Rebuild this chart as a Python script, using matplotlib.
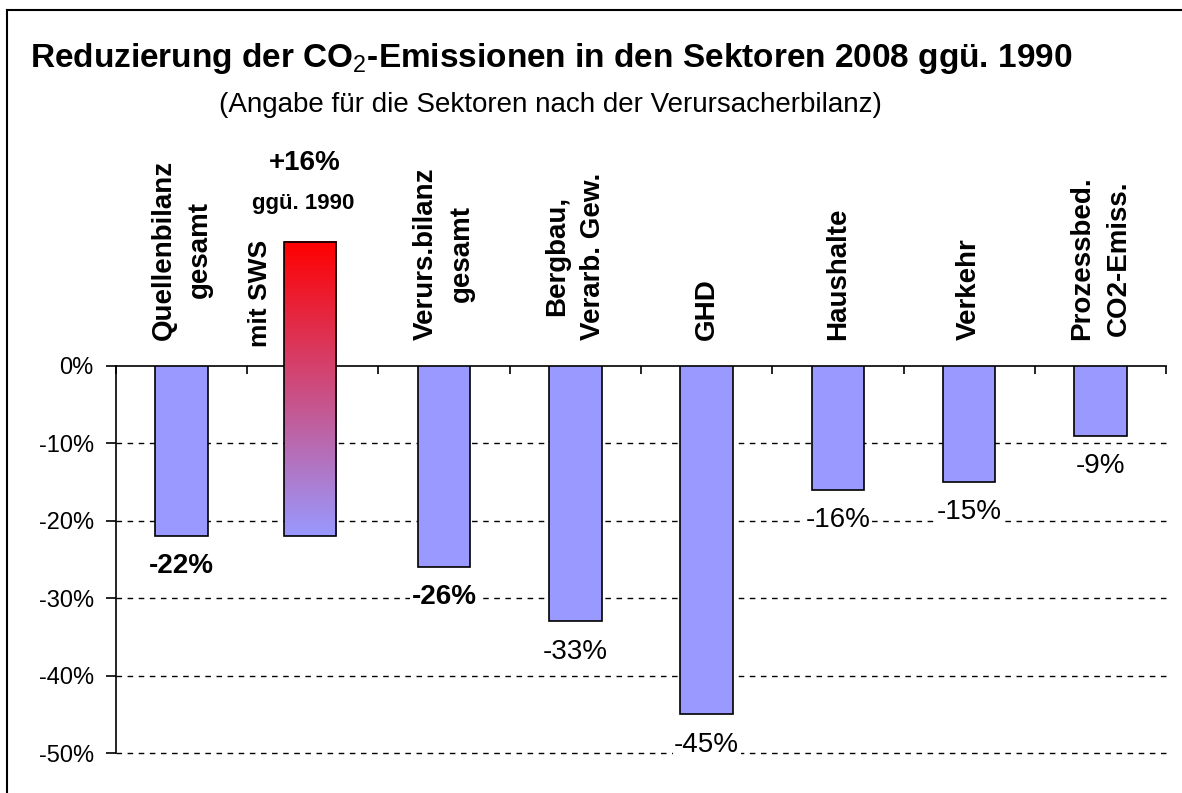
import numpy as np
import matplotlib
matplotlib.use('Agg')
import matplotlib.pyplot as plt
from matplotlib.colors import LinearSegmentedColormap
from matplotlib.lines import Line2D

plt.rcParams['font.family'] = ['Liberation Sans', 'DejaVu Sans']
plt.rcParams['mathtext.fontset'] = 'custom'
plt.rcParams['mathtext.rm'] = 'Liberation Sans'
plt.rcParams['mathtext.bf'] = 'Liberation Sans:bold'

# Daten
kategorien = ['Quellenbilanz\ngesamt', '', 'Verurs.bilanz\ngesamt', 'Bergbau,\nVerarb. Gew.',
              'GHD', 'Haushalte', 'Verkehr', 'Prozessbed.\nCO2-Emiss.']
werte = [-22, -22, -26, -33, -45, -16, -15, -9]
beschriftung = ['-22%', None, '-26%', '-33%', '-45%', '-16%', '-15%', '-9%']
fett = [True, False, True, False, False, False, False, False]
sws_oben = 16          # mit SWS: +16 % ggü. 1990
yticks = [0, -10, -20, -30, -40, -50]

blau = '#9999FF'

fig = plt.figure(figsize=(11.82, 7.93), dpi=100)
ax = fig.add_axes([0.0981, 0.0504, 0.8884, 0.4881])

for i, v in enumerate(werte):
    if i == 1:
        continue
    ax.bar(i, v, width=0.4, color=blau, edgecolor='black', linewidth=1.2, zorder=3)

# Balken mit Farbverlauf (mit SWS)
cmap = LinearSegmentedColormap.from_list('sws', [blau, '#FF0000'])
grad = np.linspace(0, 1, 256).reshape(-1, 1)
im = ax.imshow(grad, cmap=cmap, aspect='auto', origin='lower',
               extent=(1 - 0.22, 1 + 0.18, werte[1], sws_oben), zorder=3)
im.set_clip_on(False)
ax.bar(0.98, sws_oben - werte[1], bottom=werte[1], width=0.4, fill=False,
       edgecolor='black', linewidth=1.2, zorder=4, clip_on=False)

ax.set_xlim(-0.5, len(werte) - 0.5)
ax.set_ylim(-50, 0)

# Gitterlinien
for t in yticks[1:]:
    ax.axhline(t, color='black', linestyle=(0, (4, 4)), linewidth=1.0, zorder=1, clip_on=False)

ax.spines['right'].set_visible(False)
ax.spines['bottom'].set_visible(False)
ax.spines['top'].set_linewidth(1.2)
ax.spines['left'].set_linewidth(1.2)

ax.set_yticks(yticks)
ax.set_yticklabels([f'{t}%' for t in yticks], fontsize=17)
ax.tick_params(axis='y', direction='out', length=7, width=1.2, pad=9)
ax.xaxis.tick_top()
ax.set_xticks(np.arange(-0.5, len(werte), 1.0))
ax.set_xticklabels([])
ax.tick_params(axis='x', direction='in', length=6, width=1.2)

# Wertbeschriftungen
for i, v in enumerate(werte):
    if beschriftung[i] is None:
        continue
    ax.text(i, v - 3.9, beschriftung[i], ha='center', va='center', fontsize=20,
            fontweight='bold' if fett[i] else 'normal', zorder=5,
            bbox=dict(facecolor='white', edgecolor='none', pad=1))

# Kategorien
for i, k in enumerate(kategorien):
    if not k:
        continue
    ax.annotate(k, xy=(i, 0), xytext=(0, 19), textcoords='offset points',
                rotation=90, ha='center', va='bottom', multialignment='center',
                linespacing=1.5, fontsize=20, fontweight='bold', annotation_clip=False)

ax.annotate('mit SWS', xy=(0.6, 0), xytext=(0, 14), textcoords='offset points',
            rotation=90, ha='center', va='bottom', fontsize=19, fontweight='bold',
            annotation_clip=False)
ax.text(0.94, 26.2, '+16%', ha='center', va='center', fontsize=20, fontweight='bold', clip_on=False)
ax.text(0.93, 21.0, 'ggü. 1990', ha='center', va='center', fontsize=16, fontweight='bold', clip_on=False)

# Titel
fig.text(0.466, 1 - 67 / 793, 'Reduzierung der CO$_2$-Emissionen in den Sektoren 2008 ggü. 1990',
         ha='center', va='baseline', fontsize=24, fontweight='bold')
fig.text(0.466, 1 - 112 / 793, '(Angabe für die Sektoren nach der Verursacherbilanz)',
         ha='center', va='baseline', fontsize=20)

# Rahmen
fig.add_artist(Line2D([7 / 1182, 1.0], [1 - 10 / 793, 1 - 10 / 793], color='black', linewidth=1.5,
                      transform=fig.transFigure))
fig.add_artist(Line2D([7 / 1182, 7 / 1182], [0.0, 1 - 10 / 793], color='black', linewidth=1.5,
                      transform=fig.transFigure))

fig.savefig('out.png', dpi=100)
